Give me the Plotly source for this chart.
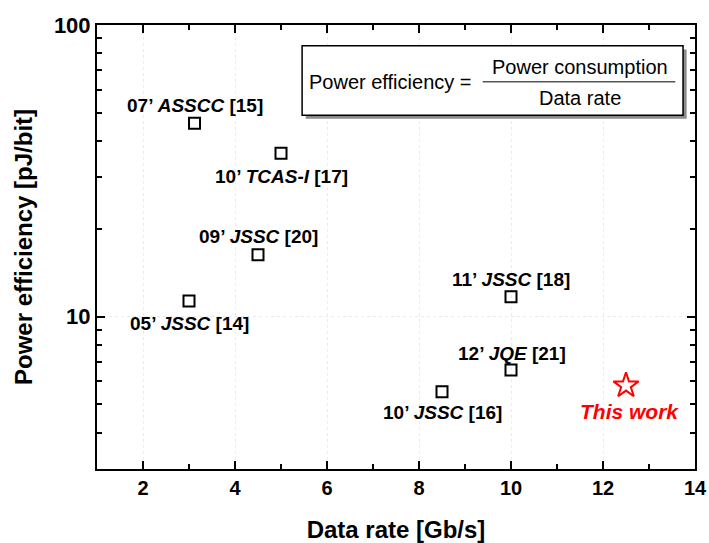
import math
import plotly.graph_objects as go

# Data
labels = ["07’ <i>ASSCC</i> [15]", "10’ <i>TCAS-I</i> [17]", "09’ <i>JSSC</i> [20]",
          "05’ <i>JSSC</i> [14]", "11’ <i>JSSC</i> [18]", "12’ <i>JQE</i> [21]",
          "10’ <i>JSSC</i> [16]"]
data_rate = [3.12, 5.0, 4.5, 3.0, 10.0, 10.0, 8.5]
power_eff = [46.0, 36.3, 16.3, 11.3, 11.7, 6.55, 5.52]
label_shift = [(0, 18), (0, -23), (0, 18), (0, -22), (0, 17), (1, 17), (0, -21)]

this_rate = [12.5]
this_eff = [5.80]

x_tickvals = [2, 4, 6, 8, 10, 12, 14]
y_tickvals = [10, 100]

FONT = "Liberation Sans, Arial, sans-serif"

fig = go.Figure()
fig.add_trace(go.Scatter(
    x=data_rate, y=power_eff, mode="markers",
    marker=dict(symbol="square-open", size=11, color="black", line=dict(width=2)),
    showlegend=False, hoverinfo="skip"))
fig.add_trace(go.Scatter(
    x=this_rate, y=this_eff, mode="markers",
    marker=dict(symbol="star-open", size=19, color="red", line=dict(width=2)),
    showlegend=False, hoverinfo="skip"))

for lab, x, y, (dx, dy) in zip(labels, data_rate, power_eff, label_shift):
    fig.add_annotation(x=x, y=math.log10(y), text="<b>" + lab + "</b>", showarrow=False,
                       xshift=dx, yshift=dy, xanchor="center", yanchor="middle",
                       font=dict(size=19, color="black", family=FONT))
fig.add_annotation(x=this_rate[0], y=math.log10(this_eff[0]), text="<b><i>This work</i></b>",
                   showarrow=False, xshift=3, yshift=-26, xanchor="center", yanchor="middle",
                   font=dict(size=21, color="red", family=FONT))

# Formula box (paper coords)
bx0, bx1, by0, by1 = 0.343, 0.980, 0.797, 0.953
fig.add_shape(type="rect", xref="paper", yref="paper",
              x0=bx0 + 0.006, x1=bx1 + 0.006, y0=by0 - 0.008, y1=by1 - 0.008,
              fillcolor="#8c8c8c", line=dict(width=0), layer="above")
fig.add_shape(type="rect", xref="paper", yref="paper",
              x0=bx0, x1=bx1, y0=by0, y1=by1,
              fillcolor="white", line=dict(color="black", width=1.5), layer="above")
fig.add_annotation(xref="paper", yref="paper", x=0.351, y=0.872, xanchor="left", yanchor="middle",
                   text="Power efficiency =", showarrow=False,
                   font=dict(size=20, color="black", family=FONT))
fig.add_annotation(xref="paper", yref="paper", x=0.808, y=0.905, xanchor="center", yanchor="middle",
                   text="Power consumption", showarrow=False,
                   font=dict(size=20, color="black", family=FONT))
fig.add_shape(type="line", xref="paper", yref="paper", x0=0.645, x1=0.967, y0=0.872, y1=0.872,
              line=dict(color="black", width=1), layer="above")
fig.add_annotation(xref="paper", yref="paper", x=0.808, y=0.836, xanchor="center", yanchor="middle",
                   text="Data rate", showarrow=False,
                   font=dict(size=20, color="black", family=FONT))

axis_common = dict(showline=True, linecolor="black", linewidth=2, mirror="ticks",
                   ticks="inside", ticklen=8, tickwidth=2, tickcolor="black",
                   showgrid=True, gridcolor="#ebebeb", griddash="dot", gridwidth=1,
                   zeroline=False, automargin=False)

fig.update_xaxes(range=[1, 14], tickvals=x_tickvals,
                 ticktext=["<b>%d</b>" % v for v in x_tickvals],
                 tickfont=dict(size=20, color="black", family=FONT),
                 minor=dict(ticks="inside", ticklen=5, tickwidth=2, tickcolor="black",
                            tickvals=[1, 3, 5, 7, 9, 11, 13], showgrid=False),
                 title=dict(text="<b>Data rate [Gb/s]</b>", standoff=25,
                            font=dict(size=24, color="black", family=FONT)),
                 **axis_common)
fig.update_yaxes(type="log", range=[0.477, 2], tickvals=y_tickvals,
                 ticktext=["<b>%d</b>" % v for v in y_tickvals],
                 tickfont=dict(size=22, color="black", family=FONT),
                 minor=dict(ticks="inside", ticklen=5, tickwidth=2, tickcolor="black",
                            tickvals=[4, 5, 6, 7, 8, 9, 20, 30, 40, 50, 60, 70, 80, 90],
                            showgrid=False),
                 title=dict(text="<b>Power efficiency [pJ/bit]</b>", standoff=14,
                            font=dict(size=24, color="black", family=FONT)),
                 **axis_common)

fig.update_layout(width=709, height=543, autosize=False,
                  margin=dict(l=97, r=14, t=25, b=74),
                  plot_bgcolor="white", paper_bgcolor="white",
                  font=dict(family=FONT, color="black"))
fig.write_html("out.html")
